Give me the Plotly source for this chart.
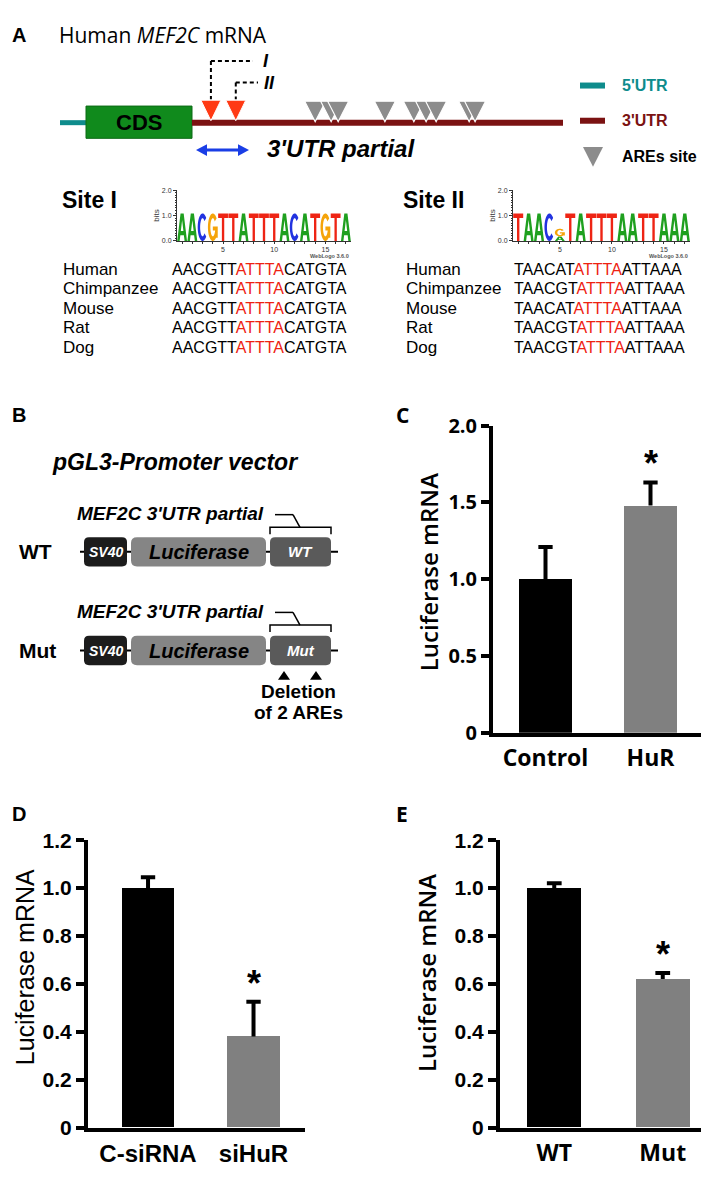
import numpy as np
import plotly.graph_objects as go

W, H = 709, 1200

# ---------------- data ----------------
c_categories = ["Control", "HuR"]
c_values = [1.00, 1.48]
c_errors = [0.21, 0.15]

d_categories = ["C-siRNA", "siHuR"]
d_values = [1.00, 0.38]
d_errors = [0.045, 0.145]

e_categories = ["WT", "Mut"]
e_values = [1.00, 0.62]
e_errors = [0.02, 0.025]

c_tickvals = [0, 0.5, 1.0, 1.5, 2.0]
c_ticktext = ["0", "0.5", "1.0", "1.5", "2.0"]
de_tickvals = [0, 0.2, 0.4, 0.6, 0.8, 1.0, 1.2]
de_ticktext = ["0", "0.2", "0.4", "0.6", "0.8", "1.0", "1.2"]

species = ["Human", "Chimpanzee", "Mouse", "Rat", "Dog"]
site1_seqs = ["AACGTTATTTACATGTA", "AACGTTATTTACATGTA", "AACGTTATTTACATGTA",
              "AACGTTATTTACATGTA", "AACGTTATTTACATGTA"]
site2_seqs = ["TAACATATTTAATTAAA", "TAACGTATTTAATTAAA", "TAACATATTTAATTAAA",
              "TAACGTATTTAATTAAA", "TAACGTATTTAATTAAA"]
are_core = (6, 11)  # ATTTA core within the aligned sequences

# sequence logos: stacks bottom -> top, (letter, bits)
site1_logo = [[("A", 1.08)], [("A", 1.08)], [("C", 1.08)], [("G", 1.08)], [("T", 1.08)],
              [("T", 1.08)], [("A", 1.08)], [("T", 1.08)], [("T", 1.08)], [("T", 1.08)],
              [("A", 1.08)], [("C", 1.08)], [("A", 1.08)], [("T", 1.08)], [("G", 1.08)],
              [("T", 1.08)], [("A", 1.08)]]
site2_logo = [[("T", 1.08)], [("A", 1.08)], [("A", 1.08)], [("C", 1.08)], [("A", 0.18), ("G", 0.30)],
              [("T", 1.08)], [("A", 1.08)], [("T", 1.08)], [("T", 1.08)], [("T", 1.08)],
              [("A", 1.08)], [("A", 1.08)], [("T", 1.08)], [("T", 1.08)], [("A", 1.08)],
              [("A", 1.08)], [("A", 1.08)]]

# relative positions of ARE sites along the 3'UTR (0 = start, 1 = end)
are_red = [0.051, 0.118]
are_grey = [0.332, 0.375, 0.394, 0.520, 0.598, 0.631, 0.658, 0.747, 0.763]

# ---------------- styles ----------------
ARIAL = "Liberation Sans, Arial, sans-serif"
MALGUN = "Open Sans, Noto Sans, sans-serif"
TEAL = "#0e8c8c"
DRED = "#7b1212"
LOGO_COL = {"A": "#1fa01f", "C": "#2233e0", "G": "#f5a40a", "T": "#ee2414"}
RED_TXT = "#ee2211"

shapes, annos = [], []


def line(x0, y0, x1, y1, color="black", width=2, dash=None):
    d = dict(type="line", xref="x", yref="y", x0=x0, y0=y0, x1=x1, y1=y1,
             line=dict(color=color, width=width))
    if dash:
        d["line"]["dash"] = dash
    shapes.append(d)


def poly(polys, fill, lc=None, lw=0, xref="x", yref="y", rule="evenodd"):
    path = ""
    for pts in polys:
        path += "M " + " L ".join(f"{x:.3f},{y:.3f}" for x, y in pts) + " Z "
    shapes.append(dict(type="path", xref=xref, yref=yref, path=path.strip(), fillcolor=fill,
                       fillrule=rule, line=dict(color=lc or fill, width=lw)))


def rrect(x0, y0, x1, y1, r, fill):
    p = (f"M {x0+r},{y0} L {x1-r},{y0} Q {x1},{y0} {x1},{y0+r} L {x1},{y1-r} Q {x1},{y1} {x1-r},{y1} "
         f"L {x0+r},{y1} Q {x0},{y1} {x0},{y1-r} L {x0},{y0+r} Q {x0},{y0} {x0+r},{y0} Z")
    shapes.append(dict(type="path", xref="x", yref="y", path=p, fillcolor=fill, line=dict(width=0)))


def txt(x, y, s, size, color="black", family=ARIAL, weight="normal", style="normal",
        xanchor="left", yanchor="middle", angle=0, xref="x", yref="y", yshift=0):
    annos.append(dict(x=x, y=y, xref=xref, yref=yref, text=s, showarrow=False, xanchor=xanchor,
                      yanchor=yanchor, textangle=angle, yshift=yshift,
                      font=dict(family=family, size=size, color=color, weight=weight, style=style)))


# ---------------- panel A: transcript schematic ----------------
txt(2, 13, "A", 20, weight="bold")
txt(49, 13, "Human <i>MEF2C</i> mRNA", 21, family=MALGUN)

UTR0, UTR1, YL = 184, 555, 103
line(52, YL, 79, YL, TEAL, 5)
shapes.append(dict(type="rect", xref="x", yref="y", x0=78, x1=184, y0=86, y1=119,
                   fillcolor="#108a1c", line=dict(color="#0b6a14", width=1)))
txt(131, 103, "CDS", 22, family=ARIAL, weight="bold", xanchor="center")
line(UTR0, YL, UTR1, YL, DRED, 6)

red_x = [UTR0 + f * (UTR1 - UTR0) for f in are_red]
for cx in red_x:
    poly([[(cx - 10, 80), (cx + 10, 80), (cx, 101)]], "#ff3a14", lc="white", lw=1)
for f in are_grey:
    cx = UTR0 + f * (UTR1 - UTR0)
    poly([[(cx - 10.5, 81), (cx + 10.5, 81), (cx, 102)]], "#8c8c8c", lc="white", lw=1.2)

# site I / II leaders
line(red_x[0], 40, red_x[0], 79, "black", 2, "4px,3px")
line(red_x[0], 40, 245, 40, "black", 2, "4px,3px")
line(red_x[1], 62, red_x[1], 79, "black", 2, "4px,3px")
line(red_x[1], 62, 250, 62, "black", 2, "4px,3px")
txt(253, 40, "I", 18, weight="bold", style="italic")
txt(254, 62, "II", 18, weight="bold", style="italic")

# 3'UTR partial arrow
BLUE = "#1a3ee6"
line(196, 131, 233, 131, BLUE, 3)
poly([[(188, 131), (199, 125), (199, 137)]], BLUE)
poly([[(241, 131), (230, 125), (230, 137)]], BLUE)
txt(257, 129, "3'UTR partial", 24, weight="bold", style="italic")

# legend
line(572, 65, 597, 65, TEAL, 6)
txt(612, 65, "5'UTR", 16, TEAL, weight="bold")
line(572, 101, 597, 101, DRED, 6)
txt(612, 101, "3'UTR", 16, DRED, weight="bold")
poly([[(575, 128), (595, 128), (585, 148)]], "#8c8c8c")
txt(612, 138, "AREs site", 16, "black", weight="bold")

# ---------------- sites I / II ----------------
txt(52, 182, "Site I", 23, weight="bold")
txt(393, 182, "Site II", 23, weight="bold")

row_y = [253, 273, 293, 313, 333]


def seq_html(s):
    a, b = are_core
    return f"{s[:a]}<span style='color:{RED_TXT}'>{s[a:b]}</span>{s[b:]}"


for i, sp in enumerate(species):
    txt(53, row_y[i], sp, 17)
    txt(162, row_y[i], seq_html(site1_seqs[i]), 16)
    txt(396, row_y[i], sp, 17)
    txt(504, row_y[i], seq_html(site2_seqs[i]), 16)


# sequence-logo glyphs (unit box, y up)
def ring(a0, a1, rxo=0.5, ryo=0.5, rxi=0.25, ryi=0.33, n=48):
    ang = np.radians(np.linspace(a0, a1, n))
    outer = [(0.5 + rxo * np.cos(a), 0.5 + ryo * np.sin(a)) for a in ang]
    inner = [(0.5 + rxi * np.cos(a), 0.5 + ryi * np.sin(a)) for a in ang[::-1]]
    return outer + inner


GLYPHS = {
    "A": ([[(0, 0), (0.34, 1), (0.66, 1), (1, 0), (0.75, 0), (0.68, 0.21), (0.32, 0.21), (0.25, 0)],
           [(0.37, 0.36), (0.63, 0.36), (0.5, 0.76)]], "evenodd"),
    "T": ([[(0, 1), (1, 1), (1, 0.84), (0.62, 0.84), (0.62, 0), (0.38, 0), (0.38, 0.84), (0, 0.84)]],
          "evenodd"),
    "C": ([ring(42, 318)], "evenodd"),
    "G": ([ring(40, 352), [(0.5, 0.38), (1.0, 0.38), (1.0, 0.53), (0.5, 0.53)],
           [(0.75, 0.12), (1.0, 0.12), (1.0, 0.53), (0.75, 0.53)]], "nonzero"),
}


def draw_logo(logo, xa, ya):
    pad = 0.02
    for i, stack in enumerate(logo):
        pos = i + 1
        base = 0.0
        for letter, h in stack:
            polys, rule = GLYPHS[letter]
            tp = [[(pos - 0.5 + pad + u * (1 - 2 * pad), base + v * h) for u, v in p] for p in polys]
            poly(tp, LOGO_COL[letter], xref=xa, yref=ya, rule=rule)
            base += h


draw_logo(site1_logo, "x5", "y5")
draw_logo(site2_logo, "x6", "y6")
txt(343, 239, "WebLogo 3.6.0", 5.5, "#555", weight="bold", xanchor="right")
txt(682, 239, "WebLogo 3.6.0", 5.5, "#555", weight="bold", xanchor="right")

# ---------------- panel B: constructs ----------------
txt(2, 402, "B", 20, weight="bold")
txt(42, 450, "pGL3-Promoter vector", 23, weight="bold", style="italic")

for lab, inner, ry, ly in [("WT", "WT", 542, 503), ("Mut", "Mut", 643, 603)]:
    txt(67, ly, "MEF2C 3'UTR partial", 19, weight="bold", style="italic")
    line(267, ly + 1, 285, ly + 1, "black", 1.5)
    line(285, ly + 1, 292, ly + 14, "black", 1.5)
    yb = ly + 14
    shapes.append(dict(type="path", xref="x", yref="y",
                       path=f"M 262,{yb+7} L 262,{yb} L 323,{yb} L 323,{yb+7}",
                       line=dict(color="black", width=1.5)))
    line(72, ry, 330, ry, "black", 2)
    rrect(76, ry - 15, 119, ry + 15, 5, "#1c1c1c")
    rrect(123, ry - 15, 258, ry + 15, 6, "#858585")
    rrect(262, ry - 15, 323, ry + 15, 5, "#5a5a5a")
    txt(97.5, ry, "SV40", 14, "white", weight="bold", style="italic", xanchor="center")
    txt(190.5, ry, "Luciferase", 20, "black", weight="bold", style="italic", xanchor="center")
    txt(292.5, ry, inner, 15, "white", weight="bold", style="italic", xanchor="center")
    txt(9, ry, lab, 21, weight="bold")

for cx in (276, 308):
    poly([[(cx - 6, 673), (cx + 6, 673), (cx, 664)]], "black")
txt(290, 685, "Deletion", 19, weight="bold", xanchor="center")
txt(290, 706, "of 2 AREs", 19, weight="bold", xanchor="center")

# ---------------- panels C, D, E: bar charts ----------------
bar_colors = ["#000000", "#808080"]
txt(386, 402, "C", 21, family=MALGUN, weight="bold")
txt(2, 810, "D", 20, weight="bold")
txt(386, 810, "E", 21, family=MALGUN, weight="bold")
txt(420, 563, "Luciferase mRNA", 24, family=MALGUN, weight=600, angle=-90, xanchor="center")
txt(17, 967, "Luciferase mRNA", 25, family=ARIAL, angle=-90, xanchor="center")
txt(418, 973, "Luciferase mRNA", 24, family=MALGUN, weight=600, angle=-90, xanchor="center")

fig = go.Figure()
fig.add_trace(go.Scatter(x=[None], y=[None], xaxis="x", yaxis="y", showlegend=False, hoverinfo="skip"))
for k in ("5", "6"):
    fig.add_trace(go.Scatter(x=[None], y=[None], xaxis="x" + k, yaxis="y" + k,
                             showlegend=False, hoverinfo="skip"))

panels = [
    ("2", c_categories, c_values, c_errors),
    ("3", d_categories, d_values, d_errors),
    ("4", e_categories, e_values, e_errors),
]
CAP = 0.068
for k, cats, vals, errs in panels:
    xs = list(range(len(vals)))
    fig.add_trace(go.Bar(
        x=xs, y=vals, width=0.5, marker=dict(color=bar_colors, line=dict(width=0)),
        xaxis="x" + k, yaxis="y" + k, showlegend=False, hoverinfo="skip"))
    ex, ey = [], []
    for xi, v, e in zip(xs, vals, errs):
        ex += [xi, xi, None, xi - CAP, xi + CAP, None]
        ey += [v, v + e, None, v + e, v + e, None]
    fig.add_trace(go.Scatter(x=ex, y=ey, mode="lines", line=dict(color="black", width=4),
                             xaxis="x" + k, yaxis="y" + k, showlegend=False, hoverinfo="skip"))
    annos.append(dict(x=1, y=vals[1] + errs[1], xref="x" + k, yref="y" + k, text="*",
                      showarrow=False, yanchor="bottom", xanchor="center", yshift=-4,
                      font=dict(family=ARIAL, size=36, color="black", weight="bold")))


def ydom(top, bottom):
    return [1 - bottom / H, 1 - top / H]


def bar_axes(k, xd, yd, xr, yr, tv, tt, cats, yfont, xfont):
    xa = dict(domain=[xd[0] / W, xd[1] / W], range=xr, anchor="y" + k, showline=True,
              linewidth=4, linecolor="black", ticks="", showgrid=False, zeroline=False,
              tickvals=list(range(len(cats))), ticktext=cats, tickfont=xfont,
              ticklabelstandoff=2, fixedrange=True)
    ya = dict(domain=ydom(*yd), range=yr, anchor="x" + k, showline=True, linewidth=4,
              linecolor="black", ticks="outside", ticklen=8, tickwidth=4, tickcolor="black",
              showgrid=False, zeroline=False, tickvals=tv, ticktext=tt, tickfont=yfont,
              fixedrange=True)
    return xa, ya


xa2, ya2 = bar_axes("2", (485, 695), (413, 727), [-0.5, 1.5], [0, 2.0], c_tickvals, c_ticktext,
                    c_categories, dict(family=MALGUN, size=20, color="black", weight="bold"),
                    dict(family=MALGUN, size=23, color="black", weight="bold"))
xa3, ya3 = bar_axes("3", (80, 297), (837, 1131), [-0.569, 1.488], [0, 1.2], de_tickvals, de_ticktext,
                    d_categories, dict(family=ARIAL, size=21, color="black", weight="bold"),
                    dict(family=ARIAL, size=24, color="black", weight="bold"))
xa4, ya4 = bar_axes("4", (492, 709), (837, 1131), [-0.5, 1.5], [0, 1.2], de_tickvals, de_ticktext,
                    e_categories, dict(family=ARIAL, size=21, color="black", weight="bold"),
                    dict(family=MALGUN, size=23, color="black", weight="bold"))

logo_tick = dict(family=ARIAL, size=7, color="#333")


def logo_axes(k, xd):
    xa = dict(domain=[xd[0] / W, xd[1] / W], range=[0.5, 17.5], anchor="y" + k, showline=True,
              linewidth=1, linecolor="#333", ticks="outside", ticklen=2, tickwidth=1,
              tickcolor="#333", tickvals=list(range(1, 18)),
              ticktext=["5" if i == 5 else "10" if i == 10 else "15" if i == 15 else "" for i in range(1, 18)],
              tickfont=logo_tick, showgrid=False, zeroline=False, fixedrange=True, ticklabelstandoff=0)
    ya = dict(domain=ydom(172, 224), range=[0, 2], anchor="x" + k, showline=True, linewidth=1,
              linecolor="#333", ticks="outside", ticklen=3, tickwidth=1, tickcolor="#333",
              tickvals=[0, 1, 2], ticktext=["0.0", "1.0", "2.0"], tickfont=logo_tick,
              minor=dict(dtick=0.1, ticks="outside", ticklen=1.5, tickcolor="#333", tickwidth=0.8),
              title=dict(text="bits", font=dict(family=ARIAL, size=8, color="#333"), standoff=1),
              showgrid=False, zeroline=False, fixedrange=True)
    return xa, ya


xa5, ya5 = logo_axes("5", (169, 343))
xa6, ya6 = logo_axes("6", (505, 682))

fig.update_layout(
    width=W, height=H, margin=dict(l=0, r=0, t=0, b=0),
    paper_bgcolor="white", plot_bgcolor="rgba(0,0,0,0)", showlegend=False,
    xaxis=dict(domain=[0, 1], range=[0, W], visible=False, fixedrange=True),
    yaxis=dict(domain=[0, 1], range=[H, 0], visible=False, fixedrange=True),
    xaxis2=xa2, yaxis2=ya2, xaxis3=xa3, yaxis3=ya3, xaxis4=xa4, yaxis4=ya4,
    xaxis5=xa5, yaxis5=ya5, xaxis6=xa6, yaxis6=ya6,
    shapes=shapes, annotations=annos, bargap=0,
)

fig.write_html("out.html")
